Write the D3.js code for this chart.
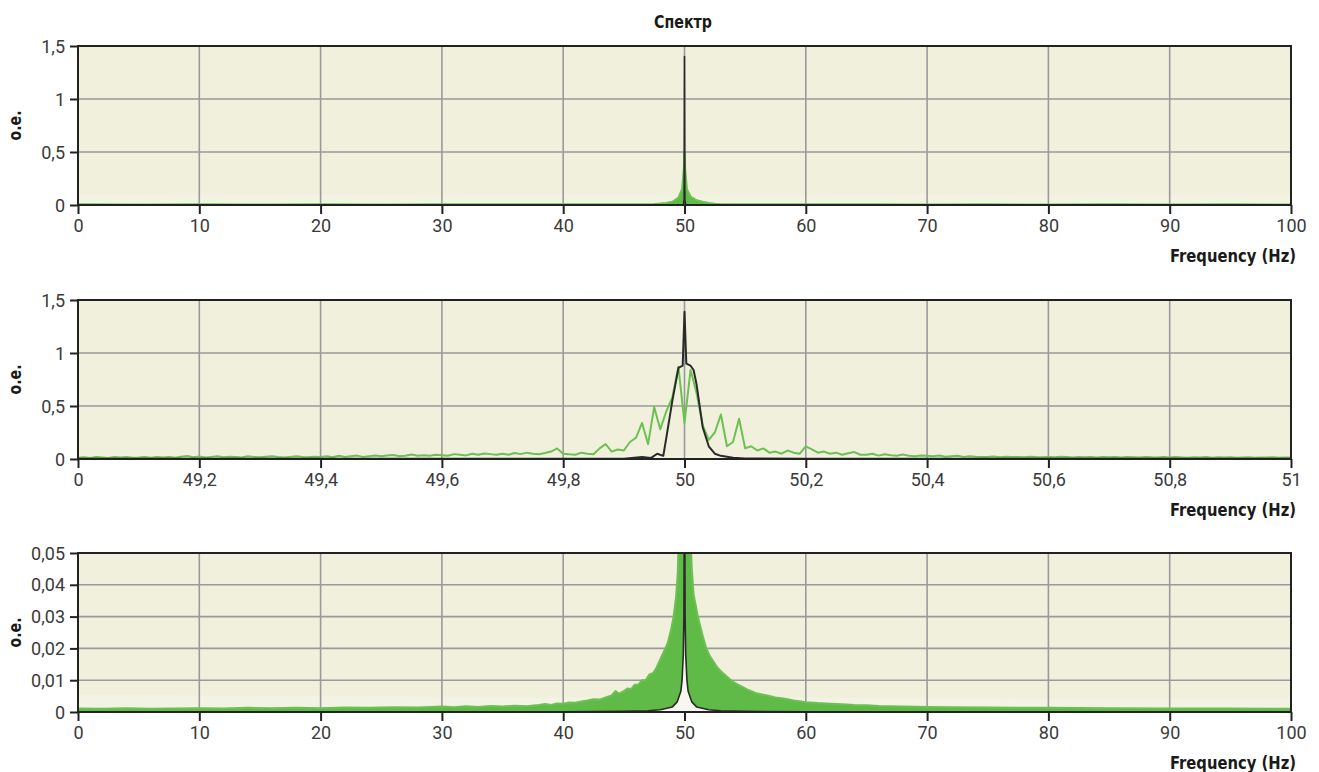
<!DOCTYPE html>
<html><head><meta charset="utf-8">
<script src="https://cdn.jsdelivr.net/npm/d3@7"></script>
<style>
body{margin:0;background:#fff;}
svg{display:block;}
</style></head>
<body><svg id="c" width="1319" height="772"></svg>
<script>
// ---------- texts ----------
const titleText = "Спектр";
const yLabelText = "о.е.";
const xLabelText = "Frequency (Hz)";

// ---------- ticks ----------
const p1XTicks = [0,10,20,30,40,50,60,70,80,90,100];
const p1XLabels = ["0","10","20","30","40","50","60","70","80","90","100"];
const p2XTicks = [49,49.2,49.4,49.6,49.8,50,50.2,50.4,50.6,50.8,51];
const p2XLabels = ["0","49,2","49,4","49,6","49,8","50","50,2","50,4","50,6","50,8","51"];
const p12YTicks = [0,0.5,1,1.5];
const p12YLabels = ["0","0,5","1","1,5"];
const p3YTicks = [0,0.01,0.02,0.03,0.04,0.05];
const p3YLabels = ["0","0,01","0,02","0,03","0,04","0,05"];

// ---------- panel 1 (0-100 Hz) ----------
const p1Green = [[0,0.006],[5,0.005],[10,0.006],[15,0.005],[20,0.006],[25,0.005],[30,0.006],[35,0.006],[40,0.007],[44,0.007],[46,0.008],[47.5,0.01],[48,0.014],[48.5,0.02],[49,0.03],[49.5,0.07],[49.8,0.15],[49.95,0.35],[50,0.5],[50.05,0.35],[50.2,0.15],[50.5,0.08],[51,0.045],[51.5,0.03],[52,0.02],[52.5,0.012],[53,0.008],[55,0.007],[60,0.006],[65,0.006],[70,0.005],[75,0.006],[80,0.005],[85,0.006],[90,0.005],[95,0.006],[100,0.005]];
const p1Black = [[0,0.002],[49.9,0.002],[49.97,0.05],[50,1.4],[50.03,0.05],[50.1,0.002],[100,0.002]];
const p1Noise = [[0,0.1],[10,0.09],[20,0.1],[30,0.09],[40,0.1],[50,0.09],[60,0.09],[70,0.1],[80,0.09],[90,0.09],[100,0.09]];

// ---------- panel 2 (49-51 Hz), green sampled every 0.01 Hz from 49 ----------
const p2Start = 49, p2Step = 0.01;
const p2GreenVal = [
0.012,0.016,0.01,0.018,0.014,0.01,0.02,0.014,0.018,0.012,
0.015,0.02,0.012,0.018,0.014,0.02,0.012,0.022,0.028,0.016,
0.024,0.014,0.02,0.026,0.016,0.022,0.018,0.014,0.026,0.02,
0.016,0.022,0.026,0.018,0.014,0.02,0.026,0.02,0.016,0.022,
0.02,0.026,0.016,0.03,0.02,0.026,0.032,0.02,0.026,0.032,
0.026,0.032,0.038,0.026,0.03,0.042,0.03,0.036,0.03,0.04,
0.036,0.03,0.046,0.04,0.034,0.05,0.04,0.052,0.046,0.04,
0.05,0.04,0.056,0.046,0.06,0.05,0.044,0.056,0.07,0.1,
0.05,0.044,0.04,0.06,0.05,0.045,0.1,0.14,0.07,0.09,
0.08,0.16,0.2,0.34,0.14,0.49,0.28,0.45,0.58,0.87,
0.34,0.84,0.62,0.32,0.18,0.25,0.42,0.12,0.16,0.38,
0.1,0.12,0.08,0.1,0.06,0.07,0.05,0.08,0.06,0.05,
0.12,0.09,0.06,0.07,0.05,0.06,0.04,0.055,0.065,0.04,
0.04,0.05,0.032,0.045,0.035,0.03,0.042,0.03,0.026,0.032,
0.03,0.026,0.032,0.022,0.026,0.03,0.02,0.026,0.022,0.02,
0.018,0.024,0.016,0.022,0.018,0.02,0.016,0.022,0.018,0.016,
0.02,0.016,0.022,0.018,0.014,0.02,0.016,0.018,0.014,0.02,
0.016,0.02,0.014,0.018,0.016,0.014,0.02,0.016,0.014,0.018,
0.014,0.018,0.015,0.012,0.016,0.014,0.018,0.012,0.016,0.014,
0.016,0.012,0.014,0.016,0.012,0.015,0.013,0.016,0.012,0.014,
0.015];
const p2Black = [[49,0.003],[49.9,0.003],[49.93,0.02],[49.945,0.01],[49.955,0.05],[49.965,0.03],[49.97,0.2],[49.98,0.55],[49.99,0.86],[49.997,0.88],[50,1.39],[50.003,0.9],[50.01,0.88],[50.015,0.84],[50.02,0.7],[50.03,0.3],[50.04,0.12],[50.05,0.05],[50.06,0.03],[50.08,0.012],[50.1,0.005],[50.2,0.003],[51,0.003]];
const p2Noise = [[49,0.035],[49.5,0.03],[50,0.03],[50.5,0.03],[51,0.03]];

// ---------- panel 3 (0-100 Hz, zoomed amplitude) ----------
const p3Green = [[0,0.0011],[2,0.0010],[4,0.0012],[6,0.0010],[8,0.0011],[10,0.0012],[12,0.0011],[14,0.0013],[16,0.0012],[18,0.0013],[20,0.0012],[22,0.0014],[24,0.0013],[26,0.0015],[28,0.0014],[30,0.0017],[31,0.0015],[32,0.0018],[33,0.0016],[34,0.0019],[35,0.0017],[36,0.0020],[37,0.0018],[38,0.0022],[38.5,0.0025],[39,0.0022],[39.5,0.0027],[40,0.0026],[40.5,0.0030],[41,0.0029],[41.5,0.0033],[42,0.0036],[42.5,0.0040],[43,0.0039],[43.5,0.0046],[44,0.0052],[44.3,0.0066],[44.6,0.0058],[45,0.0066],[45.3,0.0074],[45.6,0.0072],[45.9,0.0086],[46.2,0.0086],[46.5,0.0100],[46.8,0.0100],[47.1,0.0118],[47.4,0.0122],[47.7,0.0140],[48,0.0165],[48.3,0.0190],[48.6,0.0215],[48.9,0.0260],[49.1,0.0300],[49.3,0.0360],[49.45,0.0440],[49.55,0.06],[50.45,0.06],[50.6,0.045],[50.75,0.037],[50.9,0.034],[51.1,0.030],[51.3,0.027],[51.5,0.024],[51.8,0.020],[52.1,0.0175],[52.4,0.0158],[52.7,0.0140],[53,0.0128],[53.3,0.0118],[53.6,0.0108],[54,0.0095],[54.4,0.0086],[54.8,0.0078],[55.2,0.0070],[55.6,0.0064],[56,0.0058],[56.5,0.0054],[57,0.0050],[57.5,0.0046],[58,0.0043],[58.5,0.0040],[59,0.0036],[59.5,0.0034],[60,0.0031],[61,0.0028],[62,0.0026],[63,0.0024],[64,0.0022],[65,0.0021],[66,0.0019],[67,0.0018],[68,0.0017],[70,0.0016],[72,0.0015],[75,0.0014],[78,0.0013],[80,0.0013],[85,0.0012],[90,0.0011],[95,0.0011],[100,0.0010]];
const p3Black = [[0,0.0001],[40,0.0001],[45,0.0002],[47,0.0004],[48,0.0007],[49,0.0016],[49.4,0.0032],[49.7,0.0065],[49.8,0.010],[49.9,0.018],[49.95,0.03],[49.98,0.06],[50,1.4],[50.02,0.06],[50.05,0.03],[50.1,0.018],[50.2,0.010],[50.3,0.0065],[50.6,0.0032],[51,0.0016],[52,0.0007],[53,0.0004],[55,0.0002],[60,0.0001],[100,0.0001]];
const p3Noise = [[0,0.0055],[20,0.005],[40,0.0045],[60,0.0045],[80,0.0042],[100,0.0042]];

// ---------- drawing ----------
const svg = d3.select("#c");
const L = 78, R = 1291, H = 159;
const panels = [
  {top:46, xd:[0,100], yd:[0,1.5], xt:p1XTicks, xl:p1XLabels, yt:p12YTicks, yl:p12YLabels,
   green:p1Green, black:p1Black, noise:p1Noise, greenFill:true, blackFill:false},
  {top:300, xd:[49,51], yd:[0,1.5], xt:p2XTicks, xl:p2XLabels, yt:p12YTicks, yl:p12YLabels,
   green:p2GreenVal.map((v,i)=>[p2Start+i*p2Step, v]), black:p2Black, noise:p2Noise, greenFill:false, blackFill:false},
  {top:553, xd:[0,100], yd:[0,0.05], xt:p1XTicks, xl:p1XLabels, yt:p3YTicks, yl:p3YLabels,
   green:p3Green, black:p3Black, noise:p3Noise, greenFill:true, blackFill:true}
];

const tickFont = "Roboto,'Liberation Sans',sans-serif";
const boldFont = "'DejaVu Sans Condensed','Liberation Sans',sans-serif";

svg.append("text").attr("x",683).attr("y",28).attr("text-anchor","middle")
  .style("font-family",boldFont).style("font-weight","bold").style("font-size","17px")
  .attr("textLength",58).attr("lengthAdjust","spacingAndGlyphs").attr("fill","#1a1a1a").text(titleText);

panels.forEach((p,idx)=>{
  const bottom = p.top + H;
  const x = d3.scaleLinear().domain(p.xd).range([L,R]);
  const y = d3.scaleLinear().domain(p.yd).range([bottom,p.top]);
  const g = svg.append("g");
  const cid = "clip"+idx;
  svg.append("clipPath").attr("id",cid).append("rect")
    .attr("x",L).attr("y",p.top).attr("width",R-L).attr("height",H);

  g.append("rect").attr("x",L).attr("y",p.top).attr("width",R-L).attr("height",H).attr("fill","#f0f0dc");

  const dg = g.append("g").attr("clip-path",`url(#${cid})`);
  // pale noise floor
  dg.append("path").datum(p.noise)
    .attr("d", d3.area().x(d=>x(d[0])).y0(y(0)).y1(d=>y(d[1])))
    .attr("fill","#f3f3e3");

  // grid
  const gg = g.append("g");
  gg.selectAll("line.v").data(p.xt.slice(1,-1)).join("line")
    .attr("x1",d=>x(d)).attr("x2",d=>x(d)).attr("y1",p.top).attr("y2",bottom)
    .attr("stroke","#9a9a9a").attr("stroke-width",1.6);
  gg.selectAll("line.h").data(p.yt.slice(1,-1)).join("line")
    .attr("y1",d=>y(d)).attr("y2",d=>y(d)).attr("x1",L).attr("x2",R)
    .attr("stroke","#9a9a9a").attr("stroke-width",1.6);

  const dg2 = g.append("g").attr("clip-path",`url(#${cid})`);
  if(p.greenFill){
    dg2.append("path").datum(p.green)
      .attr("d", d3.area().x(d=>x(d[0])).y0(y(0)).y1(d=>y(d[1])))
      .attr("fill","#5fba48");
  }
  dg2.append("path").datum(p.green)
    .attr("d", d3.line().x(d=>x(d[0])).y(d=>y(d[1])))
    .attr("fill","none").attr("stroke","#6cc152").attr("stroke-width",2).attr("stroke-linejoin","round");
  if(p.blackFill){
    dg2.append("path").datum(p.black)
      .attr("d", d3.area().x(d=>x(d[0])).y0(y(0)).y1(d=>y(d[1])))
      .attr("fill","#f7f7f0");
  }
  dg2.append("path").datum(p.black)
    .attr("d", d3.line().x(d=>x(d[0])).y(d=>y(d[1])))
    .attr("fill","none").attr("stroke","#2a2a2a").attr("stroke-width",idx===1?2:1.6).attr("stroke-linejoin","round");

  // frame
  g.append("rect").attr("x",L).attr("y",p.top).attr("width",R-L).attr("height",H)
    .attr("fill","none").attr("stroke","#222").attr("stroke-width",2);

  // axes
  const xa = d3.axisBottom(x).tickValues(p.xt).tickFormat((d,i)=>p.xl[i]).tickSize(9).tickPadding(5);
  const xg = g.append("g").attr("transform",`translate(0,${bottom})`).call(xa);
  const ya = d3.axisLeft(y).tickValues(p.yt).tickFormat((d,i)=>p.yl[i]).tickSize(8).tickPadding(5);
  const yg = g.append("g").attr("transform",`translate(${L},0)`).call(ya);
  [xg,yg].forEach(a=>{
    a.select(".domain").remove();
    a.selectAll(".tick line").attr("stroke","#222").attr("stroke-width",2);
    a.selectAll(".tick text").style("font-family",tickFont).style("font-size","18px").attr("fill","#3a3a3a");
  });
  yg.selectAll(".tick text").attr("dy","0.34em");

  // axis titles
  g.append("text").attr("transform",`translate(21,${p.top+H/2}) rotate(-90)`).attr("text-anchor","middle")
    .style("font-family",boldFont).style("font-weight","bold").style("font-size","18px")
    .attr("textLength",30).attr("lengthAdjust","spacingAndGlyphs").attr("fill","#1a1a1a").text(yLabelText);
  g.append("text").attr("x",1296).attr("y",bottom+57).attr("text-anchor","end")
    .style("font-family",boldFont).style("font-weight","bold").style("font-size","18px")
    .attr("textLength",126).attr("lengthAdjust","spacingAndGlyphs").attr("fill","#1a1a1a").text(xLabelText);
});
</script></body></html>
